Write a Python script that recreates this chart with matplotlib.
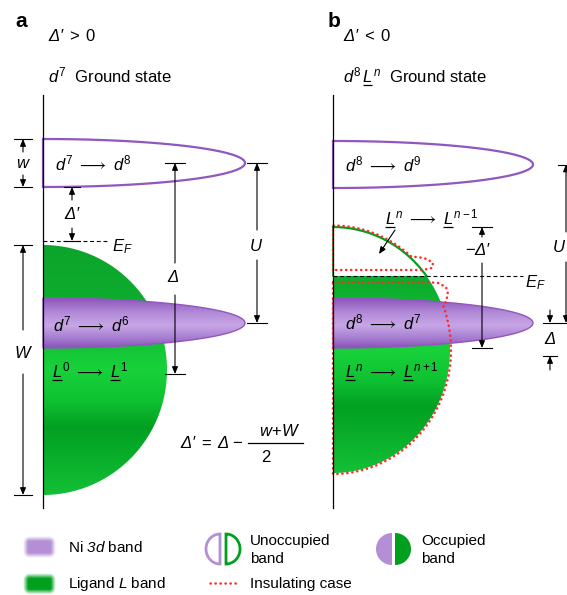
import numpy as np
import matplotlib.pyplot as plt
from matplotlib.patches import Polygon
from matplotlib.colors import LinearSegmentedColormap, to_rgb

plt.rcParams['font.family'] = ['Liberation Sans', 'DejaVu Sans']
plt.rcParams['mathtext.fontset'] = 'custom'
plt.rcParams['mathtext.rm'] = 'Liberation Sans'
plt.rcParams['mathtext.it'] = 'Liberation Sans:italic'
plt.rcParams['mathtext.sf'] = 'Liberation Sans:italic'   # italic Greek via \mathsf
plt.rcParams['mathtext.bf'] = 'Liberation Sans:bold'
plt.rcParams['mathtext.fallback'] = 'stixsans'

# --- band scheme (energy runs downwards, same scale for both panels) ---
axis_x = [43, 333]                 # DOS axis of panel a and b
axis_span = (95, 508)

uhb_a = (139, 187, 245)            # upper Hubbard band: top, bottom, tip
lhb_a = (298, 348, 245)            # lower Hubbard band
lig_a = (245, 495, 167)            # ligand band: top, bottom, right edge
ef_a = 241

uhb_b = (141, 188, 533)
lhb_b = (298, 348, 533)
lig_b = (227, 473, 450)
ef_b = 276

# insulating case: gap around E_F and the bulges of the split ligand band
ins_gap = (270, 282)
ins_upper_bulge_x = [418, 427, 433, 432, 423]
ins_upper_bulge_y = [257, 259, 263, 268, 270]
ins_lower_bulge_x = [426, 438, 446, 448, 446, 444]
ins_lower_bulge_y = [282, 283, 287, 294, 301, 306]

purple = '#9256bf'
purple_fill = [(0.0, '#8c55ba'), (0.3, '#b48bd9'), (0.55, '#c7a6e6'),
               (0.8, '#a67dd1'), (1.0, '#8a52b8')]
green = '#00a01e'
green_fill = [(0.0, '#0da42b'), (0.25, '#0cae2e'), (0.5, '#18d23a'),
              (0.62, '#0fc232'), (0.73, '#02a022'), (0.88, '#0bb22d'),
              (1.0, '#13c036')]
red = '#ff2a2a'

DL = r'\mathsf{Δ}'        # italic Delta
DP = r'\mathsf{Δ′}'       # italic Delta prime
UL = r'\mathit{L}'        # ligand hole symbol, drawn underlined


def band_outline(x0, top, bottom, tip, n=160):
    t = np.linspace(-np.pi / 2, np.pi / 2, n)
    yc, hb = (top + bottom) / 2, (bottom - top) / 2
    return np.column_stack([x0 + (tip - x0) * np.cos(t), yc + hb * np.sin(t)])


def arc(x0, band, t0, t1, grow=0.0, n=160):
    top, bottom, right = band
    yc, hb = (top + bottom) / 2, (bottom - top) / 2 + grow
    a = right - x0 + grow
    t = np.linspace(t0, t1, n)
    return x0 + a * np.cos(t), yc + hb * np.sin(t)


def t_at(band, y, grow=0.0):
    top, bottom, _ = band
    yc, hb = (top + bottom) / 2, (bottom - top) / 2 + grow
    return np.arcsin(np.clip((y - yc) / hb, -1, 1))


def gradient_patch(ax, verts, stops, yext, edge='none', lw=1.0, z=2):
    poly = Polygon(verts, closed=True, facecolor='none', edgecolor=edge,
                   lw=lw, zorder=z + 0.1)
    ax.add_patch(poly)
    cmap = LinearSegmentedColormap.from_list('band', stops)
    grad = np.linspace(0, 1, 256)[:, None]
    im = ax.imshow(grad, cmap=cmap, origin='upper', aspect='auto',
                   extent=(verts[:, 0].min(), verts[:, 0].max(), yext[1], yext[0]),
                   interpolation='bilinear', zorder=z)
    im.set_clip_path(poly)


def dim(ax, x, y0, y1, half, label=None, ly=None, g0=None, g1=None, lx=None):
    ax.plot([x - half, x + half], [y0, y0], color='k', lw=0.8, zorder=6)
    ax.plot([x - half, x + half], [y1, y1], color='k', lw=0.8, zorder=6)
    style = dict(arrowstyle='-|>,head_length=0.6,head_width=0.25', lw=0.8,
                 color='k', shrinkA=0, shrinkB=0, mutation_scale=7)
    ax.annotate('', xy=(x, y0), xytext=(x, g0), arrowprops=style, zorder=6)
    ax.annotate('', xy=(x, y1), xytext=(x, g1), arrowprops=style, zorder=6)
    if label:
        ax.text(x if lx is None else lx, ly, label, ha='center', va='center',
                fontsize=12, zorder=6)


def text_width(ax, s, fs):
    t = ax.text(0, 0, s, fontsize=fs)
    w = t.get_window_extent(ax.figure.canvas.get_renderer()).width
    t.remove()
    return w


def ul_label(ax, x, y, parts, suffix='', fs=12):
    """Math label built from fragments; every UL fragment gets underlined."""
    ax.text(x, y, '$' + ''.join(parts) + '$' + suffix, fontsize=fs,
            va='baseline', zorder=7)
    wl = text_width(ax, '$' + UL + '$', fs)
    for i, p in enumerate(parts):
        if p == UL:
            we = text_width(ax, '$' + ''.join(parts[:i + 1]) + '$', fs)
            ax.plot([x + we - wl, x + we - 0.5], [y + 3, y + 3], color='k',
                    lw=0.9, solid_capstyle='butt', zorder=7)


def soft_box(ax, x0, x1, y0, y1, color, blur=2.5, r=4):
    pad = 3 * blur
    xs = np.linspace(x0 - pad, x1 + pad, 90)
    ys = np.linspace(y0 - pad, y1 + pad, 70)
    X, Y = np.meshgrid(xs, ys)
    cx = np.clip(X, x0 + r, x1 - r)
    cy = np.clip(Y, y0 + r, y1 - r)
    d = np.hypot(X - cx, Y - cy) - r
    rgba = np.zeros((len(ys), len(xs), 4))
    rgba[..., :3] = to_rgb(color)
    rgba[..., 3] = np.clip(0.5 - d / (2 * blur), 0, 1)
    ax.imshow(rgba, origin='upper', aspect='auto', interpolation='bilinear',
              extent=(x0 - pad, x1 + pad, y1 + pad, y0 - pad), zorder=3)


def half_disc(ax, xflat, yc, w, h, side, color, filled):
    t = np.linspace(-np.pi / 2, np.pi / 2, 80)
    xs = xflat + side * w * np.cos(t)
    ys = yc + h * np.sin(t)
    ax.add_patch(Polygon(np.column_stack([xs, ys]), closed=True,
                         facecolor=color if filled else 'none',
                         edgecolor=color, lw=2.0 if not filled else 0, zorder=4))


fig = plt.figure(figsize=(5.67, 5.95), dpi=100)
ax = fig.add_axes([0, 0, 1, 1])
ax.axis('off')
ax.set_xlim(0, 567)
ax.set_ylim(595, 0)

dotted = dict(color=red, lw=1.8, linestyle=(0, (0.1, 1.9)),
              dash_capstyle='round', zorder=5)
arrow = '-|>,head_length=0.6,head_width=0.25'

# ---------------- panel a ----------------
xa = axis_x[0]
ax.plot([xa, xa], axis_span, color='k', lw=0.9, zorder=6)
ax.text(15, 27, 'a', fontsize=15, fontweight='bold', va='baseline')
ax.text(48, 41, r'$%s\;>\;0$' % DP, fontsize=12, va='baseline')
ax.text(48, 82, r'$\mathit{d}^{7}$  Ground state', fontsize=12, va='baseline')

# ligand band (occupied)
green_a = band_outline(xa, *lig_a)
gradient_patch(ax, green_a, green_fill, lig_a[:2], z=2)
# occupied d band
lhb = band_outline(xa, *lhb_a)
gradient_patch(ax, lhb, purple_fill, lhb_a[:2], edge=purple, lw=1.0, z=3)
# empty d band
ax.add_patch(Polygon(band_outline(xa, *uhb_a), closed=True, facecolor='white',
                     edgecolor=purple, lw=1.6, zorder=3))

ax.plot([xa, 108], [ef_a, ef_a], color='k', lw=0.8, dashes=(3.5, 2.5), zorder=6)
ax.text(112, 251, r'$\mathit{E}_{\mathit{F}}$', fontsize=12, va='baseline')

ax.text(55, 170, r'$\mathit{d}^{7}\ \longrightarrow\ \mathit{d}^{8}$', fontsize=12, va='baseline', zorder=7)
ax.text(53, 331, r'$\mathit{d}^{7}\ \longrightarrow\ \mathit{d}^{6}$', fontsize=12, va='baseline', zorder=7)
ul_label(ax, 52, 377, [UL, r'^{0}\ \longrightarrow\ ', UL, r'^{1}'])

dim(ax, 23, uhb_a[0], uhb_a[1], 9, r'$\mathit{w}$', 163, 152, 175)
dim(ax, 72, uhb_a[1], ef_a, 8, r'$%s$' % DP, 214, 200, 228, lx=73)
dim(ax, 23, lig_a[0], lig_a[1], 9, r'$\mathit{W}$', 353, 330, 374)
dim(ax, 175, (uhb_a[0] + uhb_a[1]) / 2, 374, 10, r'$%s$' % DL, 277, 263, 295, lx=173)
dim(ax, 257, (uhb_a[0] + uhb_a[1]) / 2, (lhb_a[0] + lhb_a[1]) / 2, 10,
    r'$\mathit{U}$', 246, 230, 260, lx=256)

# Delta' = Delta - (w + W) / 2
ax.text(243, 443, r'$%s\;=\;%s\;\mathrm{−}$' % (DP, DL), fontsize=12,
        ha='right', va='center')
ax.plot([248, 303], [443, 443], color='k', lw=0.9)
ax.text(280, 431, r'$\mathit{w}\!+\!\mathit{W}$', fontsize=12, ha='center', va='center')
ax.text(266, 458, '2', fontsize=12, ha='center', va='center')

# ---------------- panel b ----------------
xb = axis_x[1]
ax.plot([xb, xb], axis_span, color='k', lw=0.9, zorder=6)
ax.text(328, 27, 'b', fontsize=15, fontweight='bold', va='baseline')
ax.text(343, 41, r'$%s\;<\;0$' % DP, fontsize=12, va='baseline')
ul_label(ax, 343, 82, [r'\mathit{d}^{8}\,', UL, r'^{\mathit{n}}'], suffix='  Ground state')

# ligand band: filled below E_F, empty above
t_ef = t_at(lig_b, ef_b)
gx, gy = arc(xb, lig_b, t_ef, np.pi / 2)
occ = np.column_stack([np.r_[xb, gx, xb], np.r_[ef_b, gy, lig_b[1]]])
gradient_patch(ax, occ, green_fill, lig_b[:2], z=2)
ux, uy = arc(xb, lig_b, -np.pi / 2, t_ef)
ax.plot(ux, uy, color=green, lw=1.6, zorder=2.5)
ax.plot([xb, xb], [lig_b[0], ef_b], color=green, lw=1.2, zorder=2.5)

lhb = band_outline(xb, *lhb_b)
gradient_patch(ax, lhb, purple_fill, lhb_b[:2], edge=purple, lw=1.0, z=3)
ax.add_patch(Polygon(band_outline(xb, *uhb_b), closed=True, facecolor='white',
                     edgecolor=purple, lw=1.6, zorder=3))

ax.plot([xb, 523], [ef_b, ef_b], color='k', lw=0.8, dashes=(3.5, 2.5), zorder=6)
ax.text(525, 287, r'$\mathit{E}_{\mathit{F}}$', fontsize=12, va='baseline')

# insulating case outline
ax_, ay_ = arc(xb, lig_b, -np.pi / 2, t_at(lig_b, ins_upper_bulge_y[0], 1.5), grow=1.5)
ax.plot(np.r_[xb, xb, ax_, ins_upper_bulge_x, xb],
        np.r_[ins_gap[0], lig_b[0], ay_, ins_upper_bulge_y, ins_gap[0]], **dotted)
bx_, by_ = arc(xb, lig_b, t_at(lig_b, ins_lower_bulge_y[-1], 1.0), np.pi / 2, grow=1.0)
ax.plot(np.r_[xb, ins_lower_bulge_x, bx_, xb, xb],
        np.r_[ins_gap[1], ins_lower_bulge_y, by_, lig_b[1], ins_gap[1]], **dotted)

ax.text(345, 171, r'$\mathit{d}^{8}\ \longrightarrow\ \mathit{d}^{9}$', fontsize=12, va='baseline', zorder=7)
ax.text(345, 329, r'$\mathit{d}^{8}\ \longrightarrow\ \mathit{d}^{7}$', fontsize=12, va='baseline', zorder=7)
ul_label(ax, 345, 377, [UL, r'^{\mathit{n}}\ \longrightarrow\ ', UL, r'^{\mathit{n}+1}'])
ul_label(ax, 385, 224, [UL, r'^{\mathit{n}}\ \longrightarrow\ ', UL, r'^{\mathit{n}-1}'])
ax.annotate('', xy=(379, 254), xytext=(395, 230),
            arrowprops=dict(arrowstyle=arrow, lw=0.8, color='k', shrinkA=0,
                            shrinkB=0, mutation_scale=7), zorder=7)

dim(ax, 482, lig_b[0], lhb_b[1], 10, r'$-%s$' % DP, 250, 237, 263, lx=478)
dim(ax, 566, (uhb_b[0] + uhb_b[1]) / 2, (lhb_b[0] + lhb_b[1]) / 2, 8,
    r'$\mathit{U}$', 247, 232, 262, lx=559)
# gap between d-band tip and ligand edge, arrows from outside
dim(ax, 550, (lhb_b[0] + lhb_b[1]) / 2, 356, 7, None, None, 310, 370)
ax.text(550, 339, r'$%s$' % DL, fontsize=12, ha='center', va='center')

# ---------------- legend ----------------
soft_box(ax, 25, 53, 539, 556, '#b48fd6')
soft_box(ax, 25, 53, 576, 592, '#00a01e')
ax.text(68, 548, r'Ni $\mathsf{3d}$ band', fontsize=11, va='center')
ax.text(68, 584, r'Ligand $\mathit{L}$ band', fontsize=11, va='center')

half_disc(ax, 220, 549, 14, 15, -1, '#b48fd6', False)
half_disc(ax, 226, 549, 14, 15, 1, green, False)
ax.text(250, 550, 'Unoccupied\nband', fontsize=11, va='center', linespacing=1.4)
ax.plot([210, 237], [583, 583], **dotted)
ax.text(250, 584, 'Insulating case', fontsize=11, va='center')

half_disc(ax, 392, 549, 16, 16, -1, '#b48fd6', True)
half_disc(ax, 395, 549, 16, 16, 1, green, True)
ax.text(421, 550, 'Occupied\nband', fontsize=11, va='center', linespacing=1.4)

ax.set_xlim(0, 567)
ax.set_ylim(595, 0)
fig.savefig('out.png', dpi=100)
